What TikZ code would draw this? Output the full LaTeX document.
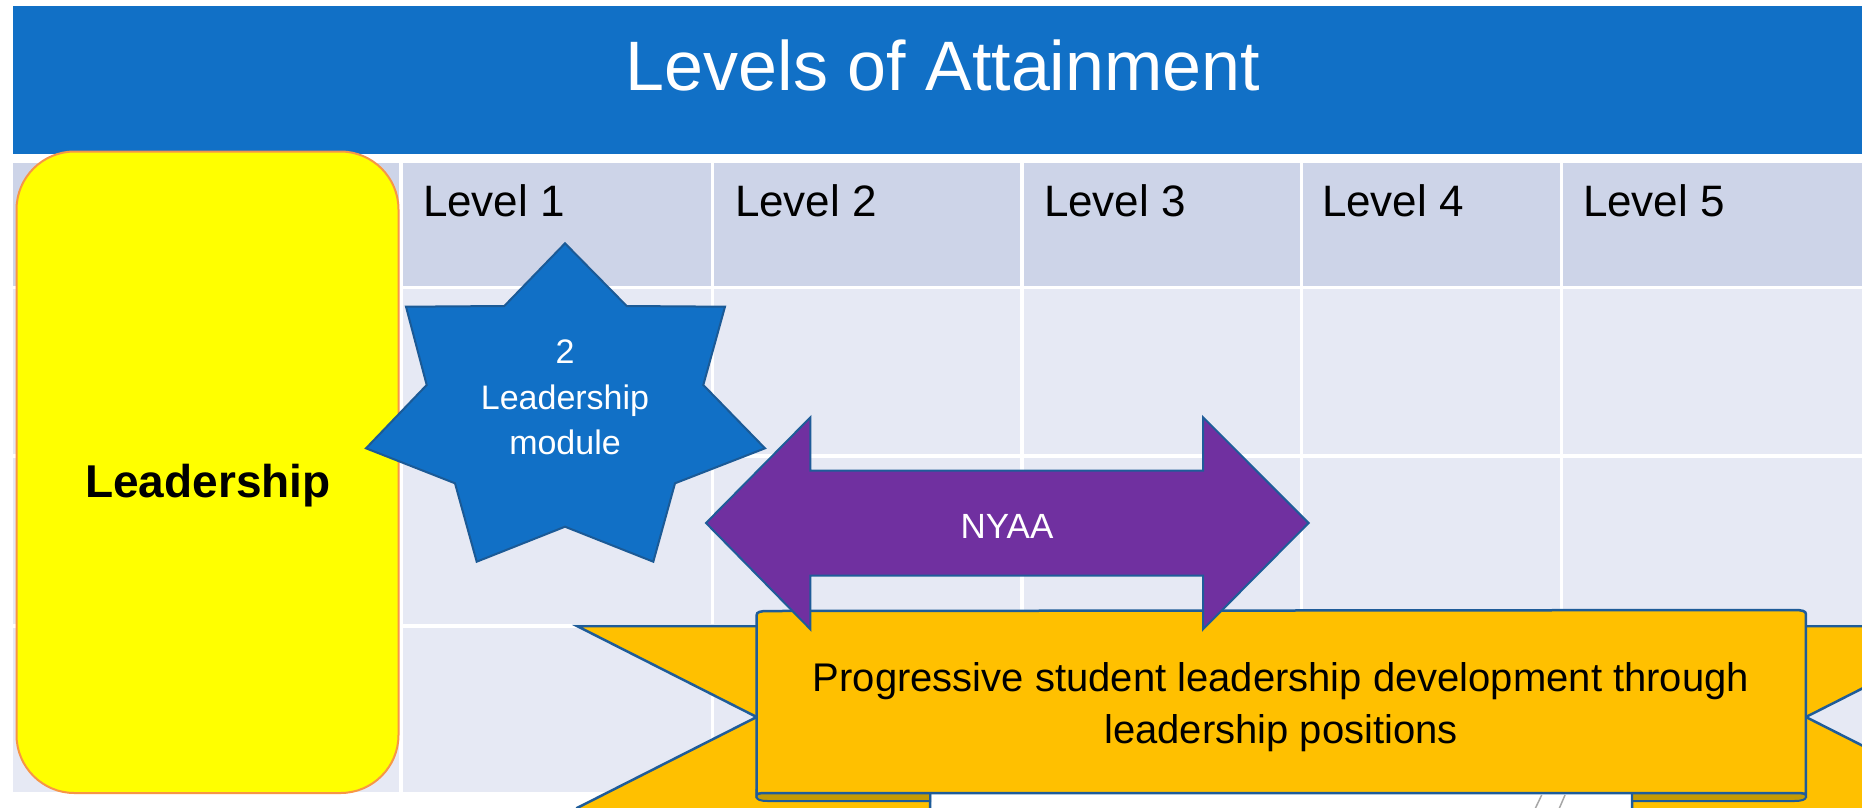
\documentclass[tikz,border=0pt]{standalone}
\usepackage{fontspec}
\setmainfont{Liberation Sans}
\definecolor{titleblue}{HTML}{1170C6}
\definecolor{headfill}{HTML}{CDD4E8}
\definecolor{bodyfill}{HTML}{E6E9F4}
\definecolor{boxyellow}{HTML}{FFFF00}
\definecolor{boxorange}{HTML}{F79646}
\definecolor{starfill}{HTML}{1170C6}
\definecolor{starline}{HTML}{1B5A96}
\definecolor{arrowpurple}{HTML}{7030A0}
\definecolor{shapeline}{HTML}{1F5C99}
\definecolor{ribbongold}{HTML}{FFC000}
\definecolor{folddark}{HTML}{C49A04}
\begin{document}
\begin{tikzpicture}[x=1pt,y=-1pt,
  txt/.style={inner sep=0pt,outer sep=0pt},
  leveltxt/.style={txt,anchor=base west,font=\fontsize{44}{52}\selectfont},
  gridline/.style={white,line width=3.5pt},
  ribbonpart/.style={fill=ribbongold,draw=shapeline,line width=2.5pt,line join=miter},
  foldpart/.style={fill=folddark,draw=shapeline,line width=2pt},
  startxt/.style={txt,anchor=base,text=white,font=\fontsize{34}{40}\selectfont},
  ribbontxt/.style={txt,anchor=base,font=\fontsize{40}{48}\selectfont}]
\useasboundingbox (0,0) rectangle (1862,807);
\path[clip] (0,0) rectangle (1862,807);
\fill[white] (0,0) rectangle (1862,807);
% title bar
\fill[titleblue] (13,6) rectangle (1870,154);
\node[txt,anchor=base,text=white,font=\fontsize{70}{84}\selectfont] (title) at (943,90) {Levels of Attainment};
% table
\fill[headfill] (13,162.7) rectangle (1870,287.4);
\fill[bodyfill] (13,287.4) rectangle (1870,792);
\foreach \yy in {287.4,456,625.8} \draw[gridline] (13,\yy) -- (1870,\yy);
\foreach \xx in {401,712.5,1022,1301.5,1561.6} \draw[gridline] (\xx,162.7) -- (\xx,792);
\node[leveltxt] (l1) at (423,216) {Level 1};
\node[leveltxt] (l2) at (735,216) {Level 2};
\node[leveltxt] (l3) at (1044,216) {Level 3};
\node[leveltxt] (l4) at (1322,216) {Level 4};
\node[leveltxt] (l5) at (1583,216) {Level 5};
% yellow box
\draw[fill=boxyellow,draw=boxorange,line width=2pt,rounded corners=58pt] (16.5,151.5) rectangle (398.5,793);
\node[txt,anchor=base,font=\bfseries\fontsize{46}{55}\selectfont] (lead) at (208,497) {Leadership};
% star
\draw[fill=starfill,draw=starline,line width=2pt,line join=miter]
  (565,243.3) -- (626.7,306) -- (725,306.7) -- (703.3,385) -- (765,448.3) -- (675,483.3)
  -- (653.3,561.7) -- (565,526.7) -- (476.7,561.7) -- (455,483.3) -- (366,448.3)
  -- (426.7,385) -- (406,306.7) -- (504.3,306) -- cycle;
\node[startxt] (s1) at (565,363.3) {2};
\node[startxt] (s2) at (565,409.3) {Leadership};
\node[startxt] (s3) at (565,454) {module};
% ribbon tails
\draw[ribbonpart] (577,626) -- (930,626) -- (930,830) -- (577,830) -- (577,808) -- (756.7,717) -- cycle;
\draw[ribbonpart] (1985.6,626) -- (1632,626) -- (1632,830) -- (1985.6,830) -- (1985.6,808) -- (1805.9,717) -- cycle;
% folds
\draw[foldpart] (930,790) -- (930,801) -- (768,801) .. controls (760,801) and (756.7,799.5) .. (756.7,797) -- (756.7,790) -- cycle;
\draw[foldpart] (1632,790) -- (1632,801) -- (1794,801) .. controls (1802,801) and (1805.9,799.5) .. (1805.9,797) -- (1805.9,790) -- cycle;
% ribbon front
\draw[ribbonpart] (756.7,795) -- (756.7,615) .. controls (756.7,612) and (760,611) .. (768,611)
  -- (1794,610) .. controls (1802,610) and (1805.9,611) .. (1805.9,614) -- (1805.9,795)
  .. controls (1805.9,793) and (1800,793) .. (1790,793) -- (772,793) .. controls (762,793) and (756.7,793) .. (756.7,795) -- cycle;
\node[ribbontxt] (r1) at (1281,691.7) {Progressive student leadership development through};
\node[ribbontxt] (r2) at (1281,743.3) {leadership positions};
% grey strokes under ribbon
\draw[gray!70,line width=1.5pt] (1541.7,795) -- (1535,809);
\draw[gray!70,line width=1.5pt] (1565,795) -- (1559,809);
% NYAA double arrow
\draw[fill=arrowpurple,draw=shapeline,line width=2pt,line join=miter]
  (706,523) -- (810.4,417.3) -- (810.4,470.7) -- (1203,470.7) -- (1203,417.3) -- (1308.6,523)
  -- (1203,629.3) -- (1203,575.7) -- (810.4,575.7) -- (810.4,629.3) -- cycle;
\node[txt,anchor=base,text=white,font=\fontsize{35}{42}\selectfont] (nyaa) at (1007,538.3) {NYAA};
\end{tikzpicture}
\end{document}
